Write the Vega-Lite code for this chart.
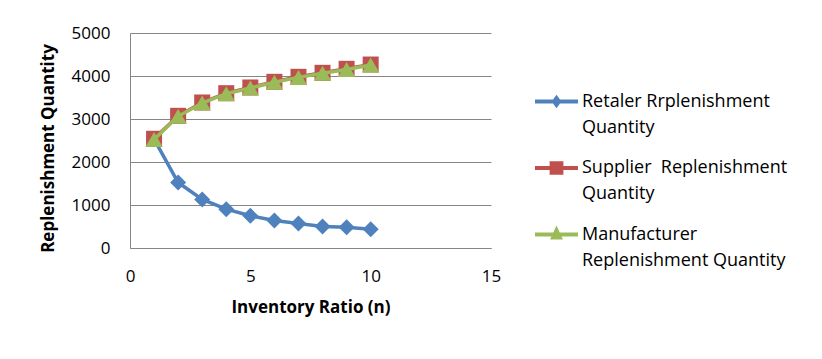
{
  "$schema": "https://vega.github.io/schema/vega-lite/v6.json",
  "width": 361,
  "height": 215,
  "autosize": {"type": "none"},
  "padding": {"left": 130, "top": 33, "right": 331, "bottom": 111},
  "background": "white",
  "config": {
    "font": "Open Sans",
    "view": {"stroke": null},
    "style": {"guide-label": {"lineHeight": 26}},
    "axis": {
      "labelFont": "Open Sans",
      "labelFontSize": 17,
      "labelColor": "#000000",
      "titleFont": "Open Sans",
      "titleFontSize": 17,
      "titleFontWeight": "bold",
      "titleColor": "#000000",
      "domainColor": "#868686",
      "domainWidth": 1,
      "gridColor": "#868686",
      "gridWidth": 1,
      "ticks": false,
      "tickSize": 0
    },
    "legend": {
      "labelFont": "Open Sans",
      "labelFontSize": 18,
      "labelColor": "#000000"
    }
  },
  "data": {
    "values": [
      {"n": 1, "series": "Retaler Rrplenishment|Quantity", "q": 2530},
      {"n": 2, "series": "Retaler Rrplenishment|Quantity", "q": 1523},
      {"n": 3, "series": "Retaler Rrplenishment|Quantity", "q": 1128},
      {"n": 4, "series": "Retaler Rrplenishment|Quantity", "q": 903},
      {"n": 5, "series": "Retaler Rrplenishment|Quantity", "q": 749},
      {"n": 6, "series": "Retaler Rrplenishment|Quantity", "q": 640},
      {"n": 7, "series": "Retaler Rrplenishment|Quantity", "q": 570},
      {"n": 8, "series": "Retaler Rrplenishment|Quantity", "q": 500},
      {"n": 9, "series": "Retaler Rrplenishment|Quantity", "q": 484},
      {"n": 10, "series": "Retaler Rrplenishment|Quantity", "q": 438},
      {"n": 1, "series": "Supplier\u00a0 Replenishment|Quantity", "q": 2540},
      {"n": 2, "series": "Supplier\u00a0 Replenishment|Quantity", "q": 3074},
      {"n": 3, "series": "Supplier\u00a0 Replenishment|Quantity", "q": 3384},
      {"n": 4, "series": "Supplier\u00a0 Replenishment|Quantity", "q": 3600},
      {"n": 5, "series": "Supplier\u00a0 Replenishment|Quantity", "q": 3733},
      {"n": 6, "series": "Supplier\u00a0 Replenishment|Quantity", "q": 3865},
      {"n": 7, "series": "Supplier\u00a0 Replenishment|Quantity", "q": 3981},
      {"n": 8, "series": "Supplier\u00a0 Replenishment|Quantity", "q": 4074},
      {"n": 9, "series": "Supplier\u00a0 Replenishment|Quantity", "q": 4167},
      {"n": 10, "series": "Supplier\u00a0 Replenishment|Quantity", "q": 4267},
      {"n": 1, "series": "Manufacturer|Replenishment Quantity", "q": 2522},
      {"n": 2, "series": "Manufacturer|Replenishment Quantity", "q": 3062},
      {"n": 3, "series": "Manufacturer|Replenishment Quantity", "q": 3372},
      {"n": 4, "series": "Manufacturer|Replenishment Quantity", "q": 3588},
      {"n": 5, "series": "Manufacturer|Replenishment Quantity", "q": 3722},
      {"n": 6, "series": "Manufacturer|Replenishment Quantity", "q": 3853},
      {"n": 7, "series": "Manufacturer|Replenishment Quantity", "q": 3968},
      {"n": 8, "series": "Manufacturer|Replenishment Quantity", "q": 4062},
      {"n": 9, "series": "Manufacturer|Replenishment Quantity", "q": 4153},
      {"n": 10, "series": "Manufacturer|Replenishment Quantity", "q": 4255}
    ]
  },
  "encoding": {
    "x": {
      "field": "n",
      "type": "quantitative",
      "scale": {"domain": [0, 15], "nice": false, "zero": false},
      "axis": {
        "title": "Inventory Ratio (n)",
        "values": [0, 5, 10, 15],
        "grid": false,
        "labelPadding": 20,
        "titlePadding": 15,
        "labelFlush": false
      }
    },
    "y": {
      "field": "q",
      "type": "quantitative",
      "scale": {"domain": [0, 5000], "nice": false},
      "axis": {
        "title": "Replenishment Quantity",
        "format": "d",
        "values": [0, 1000, 2000, 3000, 4000, 5000],
        "grid": true,
        "labelPadding": 20,
        "titlePadding": 14,
        "titleY": 115,
        "labelFlush": false
      }
    }
  },
  "layer": [
    {
      "transform": [{"filter": "datum.series === 'Retaler Rrplenishment|Quantity'"}],
      "mark": {
        "type": "line",
        "color": "#4F81BD",
        "strokeWidth": 3.5,
        "point": {"shape": "diamond", "size": 256, "filled": true, "color": "#4F81BD", "opacity": 1}
      }
    },
    {
      "transform": [{"filter": "datum.series === 'Supplier\u00a0 Replenishment|Quantity'"}],
      "mark": {
        "type": "line",
        "color": "#C0504D",
        "strokeWidth": 3.5,
        "point": {"shape": "square", "size": 256, "filled": true, "color": "#C0504D", "opacity": 1}
      }
    },
    {
      "transform": [{"filter": "datum.series === 'Manufacturer|Replenishment Quantity'"}],
      "mark": {
        "type": "line",
        "color": "#9BBB59",
        "strokeWidth": 3.5,
        "point": {"shape": "triangle-up", "size": 300, "filled": true, "color": "#9BBB59", "opacity": 1}
      }
    },
    {
      "transform": [{"filter": "datum.n > 100"}],
      "mark": {"type": "point", "filled": true, "opacity": 1, "strokeWidth": 0},
      "encoding": {
        "color": {
          "field": "series",
          "type": "nominal",
          "scale": {
            "domain": ["Retaler Rrplenishment|Quantity", "Supplier\u00a0 Replenishment|Quantity", "Manufacturer|Replenishment Quantity"],
            "range": ["#4F81BD", "#C0504D", "#9BBB59"]
          },
          "legend": {
            "title": null,
            "orient": "right",
            "offset": -3,
            "padding": 47,
            "symbolSize": 1849,
            "symbolStrokeWidth": 0,
            "labelExpr": "split(datum.label, '|')",
            "labelLimit": 400,
            "labelOffset": 4,
            "labelBaseline": "middle",
            "rowPadding": 9.5
          }
        },
        "shape": {
          "field": "series",
          "type": "nominal",
          "scale": {
            "domain": ["Retaler Rrplenishment|Quantity", "Supplier\u00a0 Replenishment|Quantity", "Manufacturer|Replenishment Quantity"],
            "range": [
              "M-1,-0.09H1V0.09H-1Z M0,-0.31L0.23,0L0,0.31L-0.23,0Z",
              "M-1,-0.09H1V0.09H-1Z M-0.32,-0.31H0.32V0.31H-0.32Z",
              "M-1,-0.09H1V0.09H-1Z M0,-0.42L0.3,0.23L-0.3,0.23Z"
            ]
          },
          "legend": {
            "title": null,
            "orient": "right",
            "offset": -4,
            "padding": 47,
            "symbolSize": 1849,
            "symbolStrokeWidth": 0,
            "labelExpr": "split(datum.label, '|')",
            "labelLimit": 400,
            "labelOffset": 4,
            "labelBaseline": "middle",
            "rowPadding": 9.5
          }
        }
      }
    }
  ]
}
